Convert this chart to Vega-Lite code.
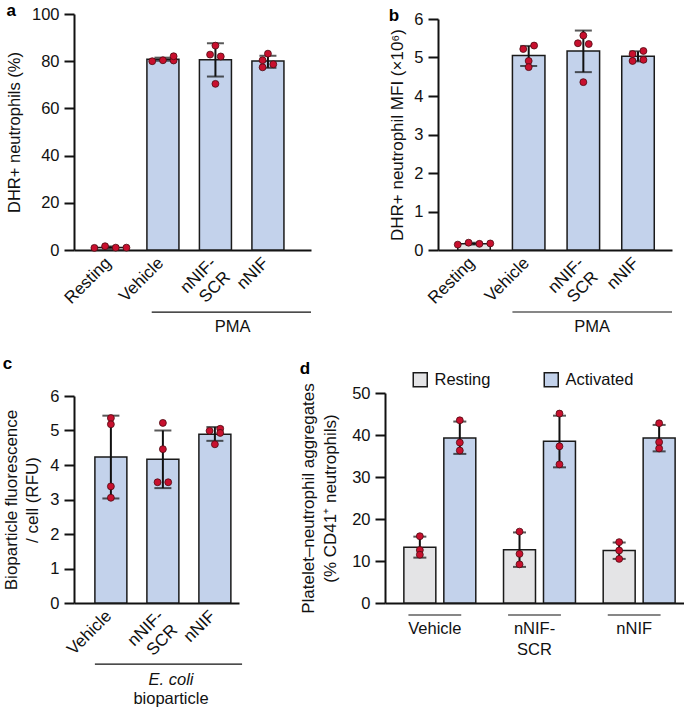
{
  "$schema": "https://vega.github.io/schema/vega-lite/v6.json",
  "padding": {"left": 2, "top": 2, "right": 0, "bottom": 0},
  "background": "white",
  "config": {
    "font": "Liberation Sans",
    "view": {"stroke": null},
    "axis": {
      "grid": false, "domainColor": "#111", "domainWidth": 2, "tickColor": "#111", "tickWidth": 2, "tickSize": 10,
      "labelFontSize": 16.5, "labelColor": "#111", "labelPadding": 5, "titleFontSize": 17, "titleFontWeight": "normal", "titleColor": "#111", "titlePadding": 7
    },
    "title": {"fontSize": 17, "fontWeight": "bold", "anchor": "start", "frame": "bounds", "color": "#000", "offset": 0}
  },
  "datasets": {
    "a_sum": [
      {"g": "Resting", "mean": 1.1, "lo": 0.8, "hi": 1.5},
      {"g": "Vehicle", "mean": 80.8, "lo": 80.2, "hi": 81.5},
      {"g": "nNIF-SCR", "mean": 80.6, "lo": 73.5, "hi": 87.6},
      {"g": "nNIF", "mean": 80.1, "lo": 77.2, "hi": 82.3}
    ],
    "a_pts": [
      {"g": "Resting", "k": -1.5, "v": 0.9}, {"g": "Resting", "k": -0.5, "v": 1.6}, {"g": "Resting", "k": 0.5, "v": 1.0}, {"g": "Resting", "k": 1.5, "v": 1.0},
      {"g": "Vehicle", "k": -1, "v": 80.0}, {"g": "Vehicle", "k": 0, "v": 80.4}, {"g": "Vehicle", "k": 1, "v": 80.3}, {"g": "Vehicle", "k": 1, "v": 82.1},
      {"g": "nNIF-SCR", "k": 0, "v": 86.6}, {"g": "nNIF-SCR", "k": -0.5, "v": 82.8}, {"g": "nNIF-SCR", "k": 0.5, "v": 82.0}, {"g": "nNIF-SCR", "k": 0, "v": 70.4},
      {"g": "nNIF", "k": 0, "v": 83.2}, {"g": "nNIF", "k": -0.5, "v": 80.4}, {"g": "nNIF", "k": 0.5, "v": 78.7}, {"g": "nNIF", "k": -0.5, "v": 77.4}
    ],
    "b_sum": [
      {"g": "Resting", "mean": 0.165, "lo": 0.14, "hi": 0.19},
      {"g": "Vehicle", "mean": 5.05, "lo": 4.78, "hi": 5.30},
      {"g": "nNIF-SCR", "mean": 5.17, "lo": 4.62, "hi": 5.70},
      {"g": "nNIF", "mean": 5.03, "lo": 4.90, "hi": 5.16}
    ],
    "b_pts": [
      {"g": "Resting", "k": -1.5, "v": 0.14}, {"g": "Resting", "k": -0.5, "v": 0.19}, {"g": "Resting", "k": 0.5, "v": 0.16}, {"g": "Resting", "k": 1.5, "v": 0.17},
      {"g": "Vehicle", "k": -0.5, "v": 5.22}, {"g": "Vehicle", "k": 0.5, "v": 5.31}, {"g": "Vehicle", "k": 0, "v": 4.91}, {"g": "Vehicle", "k": 0, "v": 4.75},
      {"g": "nNIF-SCR", "k": 0, "v": 5.57}, {"g": "nNIF-SCR", "k": -0.5, "v": 5.37}, {"g": "nNIF-SCR", "k": 0.5, "v": 5.35}, {"g": "nNIF-SCR", "k": 0, "v": 4.36},
      {"g": "nNIF", "k": 0.5, "v": 5.17}, {"g": "nNIF", "k": -0.5, "v": 5.09}, {"g": "nNIF", "k": -0.5, "v": 4.91}, {"g": "nNIF", "k": 0.5, "v": 4.94}
    ],
    "c_sum": [
      {"g": "Vehicle", "mean": 4.23, "lo": 3.03, "hi": 5.43},
      {"g": "nNIF-SCR", "mean": 4.17, "lo": 3.33, "hi": 5.0},
      {"g": "nNIF", "mean": 4.89, "lo": 4.70, "hi": 5.10}
    ],
    "c_pts": [
      {"g": "Vehicle", "k": 0, "v": 5.36}, {"g": "Vehicle", "k": 0, "v": 5.18}, {"g": "Vehicle", "k": 0, "v": 3.38}, {"g": "Vehicle", "k": 0, "v": 3.05},
      {"g": "nNIF-SCR", "k": 0, "v": 5.22}, {"g": "nNIF-SCR", "k": 0, "v": 4.46}, {"g": "nNIF-SCR", "k": -0.5, "v": 3.5}, {"g": "nNIF-SCR", "k": 0.5, "v": 3.5},
      {"g": "nNIF", "k": -0.5, "v": 4.99}, {"g": "nNIF", "k": 0.5, "v": 5.05}, {"g": "nNIF", "k": 0.5, "v": 4.93}, {"g": "nNIF", "k": 0, "v": 4.60}
    ],
    "d_sum": [
      {"g": "Vehicle", "c": "Resting", "mean": 13.3, "lo": 10.8, "hi": 15.8},
      {"g": "Vehicle", "c": "Activated", "mean": 39.3, "lo": 35.5, "hi": 43.2},
      {"g": "nNIF-SCR", "c": "Resting", "mean": 12.7, "lo": 8.6, "hi": 16.8},
      {"g": "nNIF-SCR", "c": "Activated", "mean": 38.5, "lo": 32.3, "hi": 44.6},
      {"g": "nNIF", "c": "Resting", "mean": 12.5, "lo": 10.5, "hi": 14.4},
      {"g": "nNIF", "c": "Activated", "mean": 39.3, "lo": 36.1, "hi": 42.4}
    ],
    "d_pts": [
      {"g": "Vehicle", "c": "Resting", "v": 15.9}, {"g": "Vehicle", "c": "Resting", "v": 12.6}, {"g": "Vehicle", "c": "Resting", "v": 11.5},
      {"g": "Vehicle", "c": "Activated", "v": 43.5}, {"g": "Vehicle", "c": "Activated", "v": 38.2}, {"g": "Vehicle", "c": "Activated", "v": 36.3},
      {"g": "nNIF-SCR", "c": "Resting", "v": 17.0}, {"g": "nNIF-SCR", "c": "Resting", "v": 11.7}, {"g": "nNIF-SCR", "c": "Resting", "v": 9.2},
      {"g": "nNIF-SCR", "c": "Activated", "v": 45.1}, {"g": "nNIF-SCR", "c": "Activated", "v": 37.3}, {"g": "nNIF-SCR", "c": "Activated", "v": 33.0},
      {"g": "nNIF", "c": "Resting", "v": 14.5}, {"g": "nNIF", "c": "Resting", "v": 12.5}, {"g": "nNIF", "c": "Resting", "v": 10.5},
      {"g": "nNIF", "c": "Activated", "v": 42.8}, {"g": "nNIF", "c": "Activated", "v": 38.3}, {"g": "nNIF", "c": "Activated", "v": 36.8}
    ]
  },
  "resolve": {"scale": {"color": "independent"}, "legend": {"color": "independent"}},
  "spacing": 20,
  "vconcat": [
    {
      "spacing": 76,
      "hconcat": [
        {
          "title": {"text": "a", "offset": -14},
          "width": 237, "height": 236,
          "resolve": {"scale": {"xOffset": "independent"}},
          "layer": [
            {
              "data": {"name": "a_sum"},
              "mark": {"type": "bar", "stroke": "#1a1a1a", "strokeWidth": 1.5},
              "encoding": {
                "x": {"field": "g", "type": "nominal", "scale": {"domain": ["Resting", "Vehicle", "nNIF-SCR", "nNIF"], "paddingInner": 0.39, "paddingOuter": 0.452, "align": 0.43},
                  "axis": {"title": "PMA", "titleFontSize": 16.5, "ticks": false, "labelAngle": -45, "labelAlign": "right", "labelBaseline": "middle", "labelFontSize": 17, "labelPadding": 10, "labelOffset": -2, "labelLineHeight": 20, "labelOverlap": false,
                    "encode": {"labels": {"update": {"lineHeight": {"value": 20}}}},
                    "labelExpr": "datum.value == 'nNIF-SCR' ? ['nNIF-', 'SCR'] : datum.label", "titleX": 158, "titleY": 81, "titleBaseline": "alphabetic", "titleAlign": "center"}},
                "y": {"field": "mean", "type": "quantitative", "scale": {"domain": [0, 100]}, "axis": {"values": [0, 20, 40, 60, 80, 100], "tickCount": 20, "format": "d", "title": "DHR+ neutrophils (%)", "titleFontSize": 16.5, "titlePadding": 9}},
                "color": {"condition": {"test": "datum.g === 'Resting'", "value": "#e4e4e6"}, "value": "#c3d2eb"}
              }
            },
            {
              "data": {"name": "a_sum"},
              "mark": {"type": "rule", "color": "#111", "strokeWidth": 2},
              "encoding": {"x": {"field": "g", "type": "nominal", "scale": {"domain": ["Resting", "Vehicle", "nNIF-SCR", "nNIF"], "paddingInner": 0.39, "paddingOuter": 0.452, "align": 0.43}}, "y": {"field": "lo", "type": "quantitative", "scale": {"domain": [0, 100]}}, "y2": {"field": "hi"}}
            },
            {
              "data": {"name": "a_sum"},
              "mark": {"type": "tick", "color": "#111", "thickness": 2, "size": 17},
              "encoding": {"x": {"field": "g", "type": "nominal", "scale": {"domain": ["Resting", "Vehicle", "nNIF-SCR", "nNIF"], "paddingInner": 0.39, "paddingOuter": 0.452, "align": 0.43}}, "y": {"field": "lo", "type": "quantitative", "scale": {"domain": [0, 100]}}}
            },
            {
              "data": {"name": "a_sum"},
              "mark": {"type": "tick", "color": "#111", "thickness": 2, "size": 17},
              "encoding": {"x": {"field": "g", "type": "nominal", "scale": {"domain": ["Resting", "Vehicle", "nNIF-SCR", "nNIF"], "paddingInner": 0.39, "paddingOuter": 0.452, "align": 0.43}}, "y": {"field": "hi", "type": "quantitative", "scale": {"domain": [0, 100]}}}
            },
            {
              "data": {"name": "a_pts"},
              "mark": {"type": "point", "filled": true, "fill": "#c8102e", "stroke": "#4d0a12", "strokeWidth": 0.8, "size": 48, "opacity": 1},
              "encoding": {"x": {"field": "g", "type": "nominal", "scale": {"domain": ["Resting", "Vehicle", "nNIF-SCR", "nNIF"], "paddingInner": 0.39, "paddingOuter": 0.452, "align": 0.43}}, "xOffset": {"field": "k", "type": "quantitative", "scale": {"domain": [-1.5, 1.5]}}, "y": {"field": "v", "type": "quantitative", "scale": {"domain": [0, 100]}}}
            },
            {
              "data": {"values": [{}]},
              "mark": {"type": "rule", "color": "#111", "strokeWidth": 1.2},
              "encoding": {"x": {"datum": "Vehicle", "bandPosition": 0.15, "scale": {"domain": ["Resting", "Vehicle", "nNIF-SCR", "nNIF"], "paddingInner": 0.39, "paddingOuter": 0.452, "align": 0.43}}, "x2": {"value": "width"}, "y": {"datum": -26.3, "type": "quantitative", "scale": {"domain": [0, 100]}}}
            }
          ]
        },
        {
          "title": {"text": "b", "offset": -14},
          "width": 234, "height": 236,
          "resolve": {"scale": {"xOffset": "independent"}},
          "layer": [
            {
              "data": {"name": "b_sum"},
              "mark": {"type": "bar", "stroke": "#1a1a1a", "strokeWidth": 1.5},
              "encoding": {
                "x": {"field": "g", "type": "nominal", "scale": {"domain": ["Resting", "Vehicle", "nNIF-SCR", "nNIF"], "paddingInner": 0.405, "paddingOuter": 0.343, "align": 0.527},
                  "axis": {"title": "PMA", "titleFontSize": 16.5, "ticks": false, "labelAngle": -45, "labelAlign": "right", "labelBaseline": "middle", "labelFontSize": 17, "labelPadding": 10, "labelOffset": -2, "labelLineHeight": 20, "labelOverlap": false,
                    "encode": {"labels": {"update": {"lineHeight": {"value": 20}}}},
                    "labelExpr": "datum.value == 'nNIF-SCR' ? ['nNIF-', 'SCR'] : datum.label", "titleX": 153.5, "titleY": 81, "titleBaseline": "alphabetic", "titleAlign": "center"}},
                "y": {"field": "mean", "type": "quantitative", "scale": {"domain": [0, 6], "range": [236, 5]}, "axis": {"values": [0, 1, 2, 3, 4, 5, 6], "tickCount": 20, "format": "d", "title": "DHR+ neutrophil MFI (×10⁶)"}},
                "color": {"condition": {"test": "datum.g === 'Resting'", "value": "#e4e4e6"}, "value": "#c3d2eb"}
              }
            },
            {
              "data": {"name": "b_sum"},
              "mark": {"type": "rule", "color": "#111", "strokeWidth": 2},
              "encoding": {"x": {"field": "g", "type": "nominal", "scale": {"domain": ["Resting", "Vehicle", "nNIF-SCR", "nNIF"], "paddingInner": 0.405, "paddingOuter": 0.343, "align": 0.527}}, "y": {"field": "lo", "type": "quantitative", "scale": {"domain": [0, 6], "range": [236, 5]}}, "y2": {"field": "hi"}}
            },
            {
              "data": {"name": "b_sum"},
              "mark": {"type": "tick", "color": "#111", "thickness": 2, "size": 17},
              "encoding": {"x": {"field": "g", "type": "nominal", "scale": {"domain": ["Resting", "Vehicle", "nNIF-SCR", "nNIF"], "paddingInner": 0.405, "paddingOuter": 0.343, "align": 0.527}}, "y": {"field": "lo", "type": "quantitative", "scale": {"domain": [0, 6], "range": [236, 5]}}}
            },
            {
              "data": {"name": "b_sum"},
              "mark": {"type": "tick", "color": "#111", "thickness": 2, "size": 17},
              "encoding": {"x": {"field": "g", "type": "nominal", "scale": {"domain": ["Resting", "Vehicle", "nNIF-SCR", "nNIF"], "paddingInner": 0.405, "paddingOuter": 0.343, "align": 0.527}}, "y": {"field": "hi", "type": "quantitative", "scale": {"domain": [0, 6], "range": [236, 5]}}}
            },
            {
              "data": {"name": "b_pts"},
              "mark": {"type": "point", "filled": true, "fill": "#c8102e", "stroke": "#4d0a12", "strokeWidth": 0.8, "size": 48, "opacity": 1},
              "encoding": {"x": {"field": "g", "type": "nominal", "scale": {"domain": ["Resting", "Vehicle", "nNIF-SCR", "nNIF"], "paddingInner": 0.405, "paddingOuter": 0.343, "align": 0.527}}, "xOffset": {"field": "k", "type": "quantitative", "scale": {"domain": [-1.5, 1.5]}}, "y": {"field": "v", "type": "quantitative", "scale": {"domain": [0, 6], "range": [236, 5]}}}
            },
            {
              "data": {"values": [{}]},
              "mark": {"type": "rule", "color": "#111", "strokeWidth": 1.2},
              "encoding": {"x": {"datum": "Vehicle", "bandPosition": 0, "scale": {"domain": ["Resting", "Vehicle", "nNIF-SCR", "nNIF"], "paddingInner": 0.405, "paddingOuter": 0.343, "align": 0.527}}, "x2": {"value": "width"}, "y": {"datum": -1.61, "type": "quantitative", "scale": {"domain": [0, 6], "range": [236, 5]}}}
            }
          ]
        }
      ]
    },
    {
      "spacing": 56,
      "resolve": {"scale": {"color": "independent"}, "legend": {"color": "independent"}},
      "hconcat": [
        {
          "title": {"text": "c", "offset": 15},
          "width": 165, "height": 210,
          "resolve": {"axis": {"x": "independent"}, "scale": {"xOffset": "independent"}},
          "layer": [
            {
              "data": {"name": "c_sum"},
              "mark": {"type": "bar", "stroke": "#1a1a1a", "strokeWidth": 1.5, "color": "#c3d2eb"},
              "encoding": {
                "x": {"field": "g", "type": "nominal", "scale": {"domain": ["Vehicle", "nNIF-SCR", "nNIF"], "paddingInner": 0.385, "paddingOuter": 0.279, "align": 0.72},
                  "axis": {"title": "bioparticle", "titleFontSize": 16.5, "ticks": false, "labelAngle": -45, "labelAlign": "right", "labelBaseline": "middle", "labelFontSize": 17, "labelPadding": 10, "labelOffset": -2, "labelLineHeight": 20, "labelOverlap": false,
                    "encode": {"labels": {"update": {"lineHeight": {"value": 20}}}},
                    "labelExpr": "datum.value == 'nNIF-SCR' ? ['nNIF-', 'SCR'] : datum.label", "titleX": 96.5, "titleY": 100, "titleBaseline": "alphabetic", "titleAlign": "center"}},
                "y": {"field": "mean", "type": "quantitative", "scale": {"domain": [0, 6], "range": [210, 3]}, "axis": {"values": [0, 1, 2, 3, 4, 5, 6], "tickCount": 20, "format": "d", "title": ["Bioparticle fluorescence", "/ cell (RFU)"], "titlePadding": 8, "titleLineHeight": 21, "encode": {"title": {"update": {"lineHeight": {"value": 21}}}}}}
              }
            },
            {
              "data": {"name": "c_sum"},
              "mark": {"type": "rule", "color": "#111", "strokeWidth": 2},
              "encoding": {"x": {"field": "g", "type": "nominal", "axis": null, "scale": {"domain": ["Vehicle", "nNIF-SCR", "nNIF"], "paddingInner": 0.385, "paddingOuter": 0.279, "align": 0.72}}, "y": {"field": "lo", "type": "quantitative", "scale": {"domain": [0, 6], "range": [210, 3]}}, "y2": {"field": "hi"}}
            },
            {
              "data": {"name": "c_sum"},
              "mark": {"type": "tick", "color": "#111", "thickness": 2, "size": 17},
              "encoding": {"x": {"field": "g", "type": "nominal", "axis": null, "scale": {"domain": ["Vehicle", "nNIF-SCR", "nNIF"], "paddingInner": 0.385, "paddingOuter": 0.279, "align": 0.72}}, "y": {"field": "lo", "type": "quantitative", "scale": {"domain": [0, 6], "range": [210, 3]}}}
            },
            {
              "data": {"name": "c_sum"},
              "mark": {"type": "tick", "color": "#111", "thickness": 2, "size": 17},
              "encoding": {"x": {"field": "g", "type": "nominal", "axis": null, "scale": {"domain": ["Vehicle", "nNIF-SCR", "nNIF"], "paddingInner": 0.385, "paddingOuter": 0.279, "align": 0.72}}, "y": {"field": "hi", "type": "quantitative", "scale": {"domain": [0, 6], "range": [210, 3]}}}
            },
            {
              "data": {"name": "c_pts"},
              "mark": {"type": "point", "filled": true, "fill": "#c8102e", "stroke": "#4d0a12", "strokeWidth": 0.8, "size": 48, "opacity": 1},
              "encoding": {"x": {"field": "g", "type": "nominal", "axis": null, "scale": {"domain": ["Vehicle", "nNIF-SCR", "nNIF"], "paddingInner": 0.385, "paddingOuter": 0.279, "align": 0.72}}, "xOffset": {"field": "k", "type": "quantitative", "scale": {"domain": [-1.5, 1.5]}}, "y": {"field": "v", "type": "quantitative", "scale": {"domain": [0, 6], "range": [210, 3]}}}
            },
            {
              "data": {"values": [{}]},
              "mark": {"type": "rule", "color": "#111", "strokeWidth": 1.2},
              "encoding": {"x": {"datum": "Vehicle", "bandPosition": 0, "scale": {"domain": ["Vehicle", "nNIF-SCR", "nNIF"], "paddingInner": 0.385, "paddingOuter": 0.279, "align": 0.72},
                  "axis": {"orient": "bottom", "title": "E. coli", "titleFontSize": 16.5, "titleFontStyle": "italic", "labels": false, "domain": false, "ticks": false, "titleX": 96.5, "titleY": 81, "titleBaseline": "alphabetic", "titleAlign": "center"}},
                "x2": {"datum": "nNIF", "bandPosition": 1.35},
                "y": {"datum": -1.77, "type": "quantitative", "scale": {"domain": [0, 6], "range": [210, 3]}}}
            }
          ]
        },
        {
          "title": {"text": "d", "offset": -7},
          "width": 299, "height": 210,
          "layer": [
            {
              "data": {"name": "d_sum"},
              "mark": {"type": "bar", "stroke": "#1a1a1a", "strokeWidth": 1.5},
              "encoding": {
                "x": {"field": "g", "type": "nominal", "scale": {"domain": ["Vehicle", "nNIF-SCR", "nNIF"], "paddingInner": 0, "paddingOuter": 0},
                  "axis": {"title": null, "ticks": false, "labelAngle": 0, "labelAlign": "center", "labelBaseline": "top", "labelFontSize": 16.5, "labelPadding": 17, "labelLineHeight": 21, "labelOverlap": false,
                    "encode": {"labels": {"update": {"lineHeight": {"value": 21}}}},
                    "labelExpr": "datum.value == 'nNIF-SCR' ? ['nNIF-', 'SCR'] : datum.label"}},
                "xOffset": {"field": "c", "type": "nominal", "scale": {"domain": ["Resting", "Activated"], "paddingInner": 0.2, "paddingOuter": 0.347, "align": 0.68}},
                "y": {"field": "mean", "type": "quantitative", "scale": {"domain": [0, 50]}, "axis": {"values": [0, 10, 20, 30, 40, 50], "tickCount": 20, "format": "d", "title": ["Platelet–neutrophil aggregates", "(% CD41⁺ neutrophils)"], "titlePadding": 12, "titleLineHeight": 22, "encode": {"title": {"update": {"lineHeight": {"value": 22}}}}}},
                "color": {"field": "c", "type": "nominal", "scale": {"domain": ["Resting", "Activated"], "range": ["#e4e4e6", "#c3d2eb"]},
                  "legend": {"title": null, "orient": "none", "legendX": 27, "legendY": -22, "direction": "horizontal", "symbolType": "square", "symbolSize": 196, "symbolStrokeColor": "#1a1a1a", "symbolStrokeWidth": 1.5, "labelFontSize": 16.5, "labelColor": "#111", "columnPadding": 50, "labelOffset": 6, "padding": 0}}
              }
            },
            {
              "data": {"name": "d_sum"},
              "mark": {"type": "rule", "color": "#111", "strokeWidth": 2},
              "encoding": {"x": {"field": "g", "type": "nominal", "scale": {"domain": ["Vehicle", "nNIF-SCR", "nNIF"], "paddingInner": 0, "paddingOuter": 0}}, "xOffset": {"field": "c", "type": "nominal", "scale": {"domain": ["Resting", "Activated"], "paddingInner": 0.2, "paddingOuter": 0.347, "align": 0.68}}, "y": {"field": "lo", "type": "quantitative", "scale": {"domain": [0, 50]}}, "y2": {"field": "hi"}}
            },
            {
              "data": {"name": "d_sum"},
              "mark": {"type": "tick", "color": "#111", "thickness": 2, "size": 13},
              "encoding": {"x": {"field": "g", "type": "nominal", "scale": {"domain": ["Vehicle", "nNIF-SCR", "nNIF"], "paddingInner": 0, "paddingOuter": 0}}, "xOffset": {"field": "c", "type": "nominal", "scale": {"domain": ["Resting", "Activated"], "paddingInner": 0.2, "paddingOuter": 0.347, "align": 0.68}}, "y": {"field": "lo", "type": "quantitative", "scale": {"domain": [0, 50]}}}
            },
            {
              "data": {"name": "d_sum"},
              "mark": {"type": "tick", "color": "#111", "thickness": 2, "size": 13},
              "encoding": {"x": {"field": "g", "type": "nominal", "scale": {"domain": ["Vehicle", "nNIF-SCR", "nNIF"], "paddingInner": 0, "paddingOuter": 0}}, "xOffset": {"field": "c", "type": "nominal", "scale": {"domain": ["Resting", "Activated"], "paddingInner": 0.2, "paddingOuter": 0.347, "align": 0.68}}, "y": {"field": "hi", "type": "quantitative", "scale": {"domain": [0, 50]}}}
            },
            {
              "data": {"name": "d_pts"},
              "mark": {"type": "point", "filled": true, "fill": "#c8102e", "stroke": "#4d0a12", "strokeWidth": 0.8, "size": 48, "opacity": 1},
              "encoding": {"x": {"field": "g", "type": "nominal", "scale": {"domain": ["Vehicle", "nNIF-SCR", "nNIF"], "paddingInner": 0, "paddingOuter": 0}}, "xOffset": {"field": "c", "type": "nominal", "scale": {"domain": ["Resting", "Activated"], "paddingInner": 0.2, "paddingOuter": 0.347, "align": 0.68}}, "y": {"field": "v", "type": "quantitative", "scale": {"domain": [0, 50]}}}
            },
            {
              "data": {"values": [{"g": "Vehicle"}, {"g": "nNIF-SCR"}, {"g": "nNIF"}]},
              "mark": {"type": "rule", "color": "#111", "strokeWidth": 1.2},
              "encoding": {"x": {"field": "g", "type": "nominal", "bandPosition": 0.235, "scale": {"domain": ["Vehicle", "nNIF-SCR", "nNIF"], "paddingInner": 0, "paddingOuter": 0}}, "x2": {"field": "g", "bandPosition": 0.765}, "y": {"datum": -2.86, "type": "quantitative", "scale": {"domain": [0, 50]}}}
            }
          ]
        }
      ]
    }
  ]
}
